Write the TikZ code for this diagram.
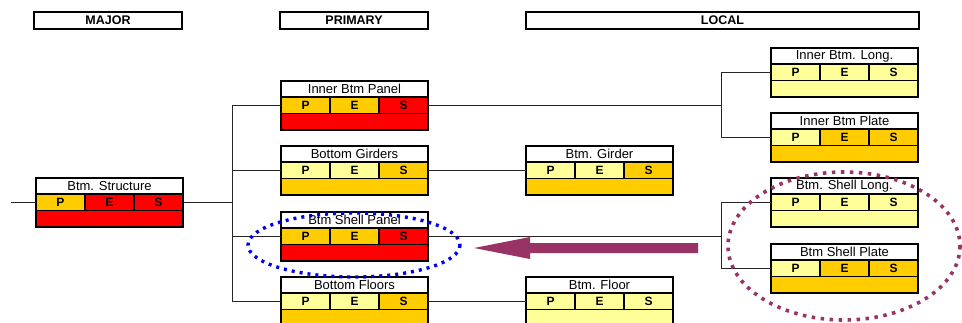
\documentclass[tikz,border=0pt]{standalone}
\usepackage{fontspec}
\setmainfont{Liberation Sans}
\definecolor{ylight}{HTML}{FFFF99}
\definecolor{ygold}{HTML}{FFCC00}
\definecolor{rred}{HTML}{FF0000}
\definecolor{plum}{HTML}{993366}
\definecolor{dotblue}{HTML}{0000EE}
\tikzset{
  cell/.style={draw=black, line width=1.6pt, inner sep=0pt, outer sep=0pt, minimum width=147pt},
  titlecell/.style={cell, fill=white, minimum height=16pt, font=\fontsize{13}{13}\selectfont},
  pescell/.style={cell, minimum width=49pt, minimum height=16.5pt, font=\fontsize{12}{12}\selectfont\bfseries},
  botcell/.style={cell, minimum height=16.5pt},
  header/.style={draw=black, line width=2pt, fill=white, inner sep=0pt, outer sep=0pt, minimum height=17pt, font=\fontsize{12.5}{12.5}\selectfont\bfseries, anchor=north west},
  conn/.style={draw=black!85, line width=1pt},
  bluedots/.style={draw=dotblue, line width=3.4pt, dash pattern=on 3pt off 5pt},
  plumdots/.style={draw=plum, line width=3.6pt, dash pattern=on 3.5pt off 5.5pt},
}
\newcommand\pesbox[8]{%
  \node[titlecell, anchor=north west] (#1) at (#2,#3) {#4};
  \node[pescell, fill=#5, anchor=north west] (#1-p) at (#1.south west) {P};
  \node[pescell, fill=#6, anchor=west] (#1-e) at (#1-p.east) {E};
  \node[pescell, fill=#7, anchor=west] (#1-s) at (#1-e.east) {S};
  \node[botcell, fill=#8, anchor=north west] (#1-b) at (#1-p.south west) {};
}
\begin{document}
\begin{tikzpicture}[x=1pt, y=-1pt]
\useasboundingbox (0,0) rectangle (962,322);
% headers
\node[header, minimum width=148pt] (hmajor) at (34,12) {MAJOR};
\node[header, minimum width=148pt] (hprimary) at (280,12) {PRIMARY};
\node[header, minimum width=393pt] (hlocal) at (526,12) {LOCAL};
% boxes
\pesbox{struct}{36}{178}{Btm. Structure}{ygold}{rred}{rred}{rred}
\pesbox{ibp}{281}{81}{Inner Btm Panel}{ygold}{ygold}{rred}{rred}
\pesbox{bgs}{281}{146}{Bottom Girders}{ylight}{ylight}{ygold}{ygold}
\pesbox{bsp}{281}{212}{Btm Shell Panel}{ygold}{ygold}{rred}{rred}
\pesbox{bfs}{281}{277}{Bottom Floors}{ylight}{ylight}{ygold}{ygold}
\pesbox{btg}{526}{146}{Btm. Girder}{ylight}{ylight}{ygold}{ygold}
\pesbox{btf}{526}{277}{Btm. Floor}{ylight}{ylight}{ylight}{ylight}
\pesbox{ibl}{771}{48}{Inner Btm. Long.}{ylight}{ylight}{ylight}{ylight}
\pesbox{ibpl}{771}{113}{Inner Btm Plate}{ylight}{ygold}{ygold}{ygold}
\pesbox{bsl}{771}{178}{Btm. Shell Long.}{ylight}{ylight}{ylight}{ylight}
\pesbox{bspl}{771}{244}{Btm Shell Plate}{ylight}{ygold}{ygold}{ygold}
% junction points
\coordinate (stub) at ([xshift=-25pt]struct-p.west);
\coordinate (j1) at ([xshift=49pt]struct-s.east);
\coordinate (j2) at ([xshift=293pt]ibp-s.east);
\coordinate (j3) at ([xshift=293pt]bsp-s.east);
% lines
\draw[conn] (stub) -- (struct-p.west);
\draw[conn] (struct-s.east) -- (j1);
\draw[conn] (j1 |- ibp-p.west) -- (j1 |- bfs-p.west);
\draw[conn] (j1 |- ibp-p.west) -- (ibp-p.west);
\draw[conn] (j1 |- bgs-p.west) -- (bgs-p.west);
\draw[conn] (j1 |- bsp-p.west) -- (bsp-p.west);
\draw[conn] (j1 |- bfs-p.west) -- (bfs-p.west);
\draw[conn] (ibp-s.east) -- (j2);
\draw[conn] (j2 |- ibl-p.west) -- (j2 |- ibpl-p.west);
\draw[conn] (j2 |- ibl-p.west) -- (ibl-p.west);
\draw[conn] (j2 |- ibpl-p.west) -- (ibpl-p.west);
\draw[conn] (bgs-s.east) -- (btg-p.west);
\draw[conn] (bsp-s.east) -- (j3);
\draw[conn] (j3 |- bsl-p.west) -- (j3 |- bspl-p.west);
\draw[conn] (j3 |- bsl-p.west) -- (bsl-p.west);
\draw[conn] (j3 |- bspl-p.west) -- (bspl-p.west);
\draw[conn] (bfs-s.east) -- (btf-p.west);
% big arrow
\fill[plum] (698,243) -- (530,243) -- (530,237) -- (474,248) -- (530,259) -- (530,253) -- (698,253) -- cycle;
% dotted ellipses
\draw[bluedots] (354,245) ellipse [x radius=106, y radius=32];
\draw[plumdots] (844,246) ellipse [x radius=116, y radius=74];
\end{tikzpicture}
\end{document}
